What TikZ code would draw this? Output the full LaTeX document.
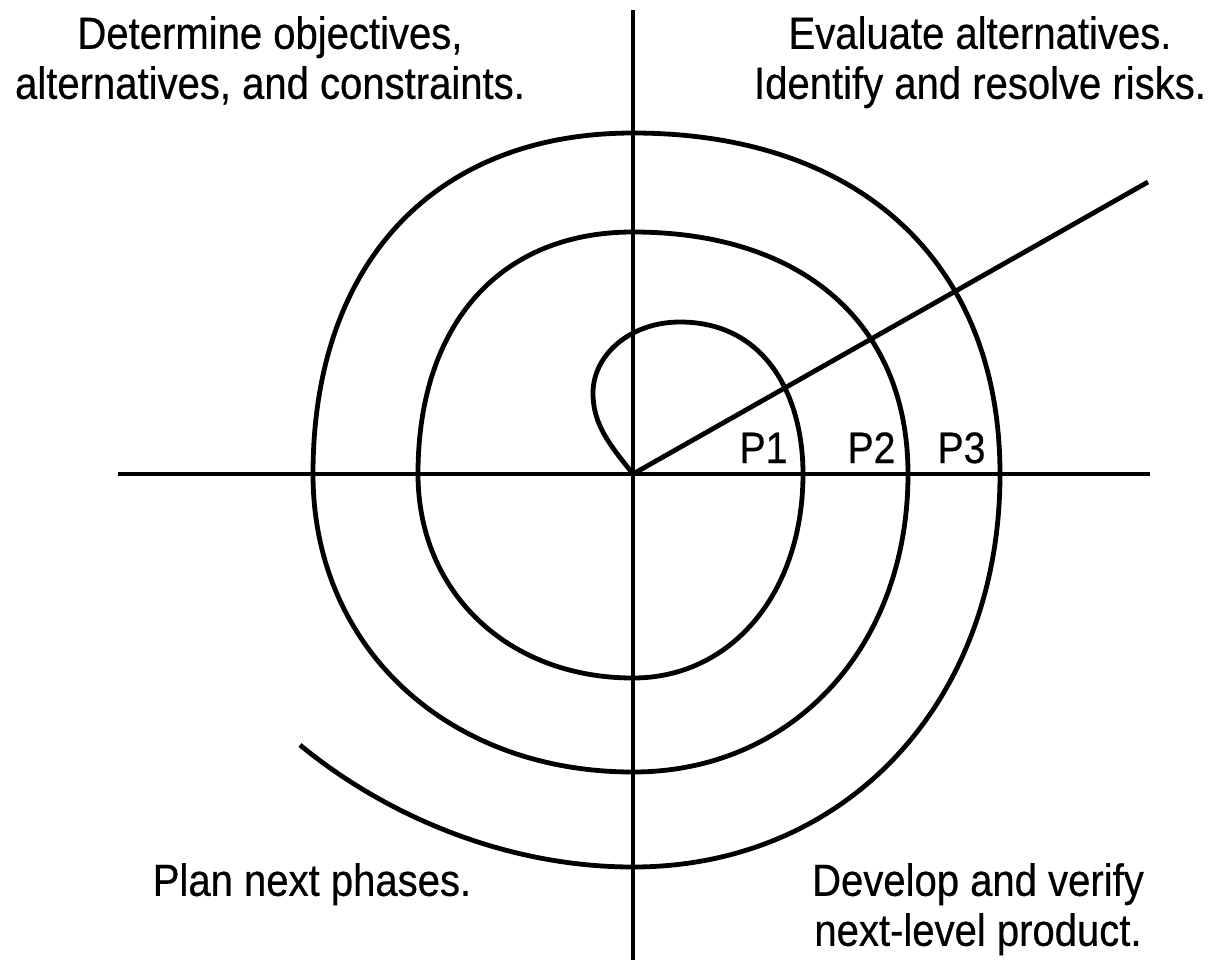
\documentclass[tikz,border=0pt]{standalone}
\usepackage{fontspec}
\setmainfont{Liberation Sans}[FakeStretch=0.89,FakeBold=0.5]
\begin{document}
\begin{tikzpicture}[x=1pt,y=-1pt,
  axisline/.style={line width=4.8pt},
  spiralline/.style={line width=4.8pt,line cap=butt},
  label/.style={inner sep=0pt,align=center,font=\fontsize{45}{50}\selectfont},
  plabel/.style={inner sep=0pt,anchor=base,font=\fontsize{44}{50}\selectfont}]
\useasboundingbox (0,0) rectangle (1218,962);
% axes
\coordinate (O) at (633,474);
\coordinate (vtop) at (633,10);
\coordinate (vbot) at (633,960);
\coordinate (hl) at (118,474);
\coordinate (hr) at (1150,474);
\coordinate (dg) at (1148,182);
\draw[axisline] (vtop) -- (vbot);
\draw[axisline] (hl) -- (hr);
\draw[axisline] (O) -- (dg);
% spiral
\draw[spiralline] (O)
  .. controls (610,445) and (593,425) .. (593,393)
  .. controls (593,355) and (630,322) .. (680,322)
  .. controls (765,322) and (803,395) .. (803,474)
  .. controls (803,592.7) and (731.6,678) .. (633,678)
  .. controls (508.3,678) and (418,592.7) .. (418,474)
  .. controls (418,324.3) and (499.7,232) .. (633,232)
  .. controls (803.5,232) and (908,324.3) .. (908,474)
  .. controls (908,647.3) and (792.5,772) .. (633,772)
  .. controls (447.4,772) and (313,647.3) .. (313,474)
  .. controls (313,263) and (434.6,133) .. (633,133)
  .. controls (860.5,133) and (1000,263) .. (1000,474)
  .. controls (1000,702.4) and (845.9,867) .. (633,867)
  .. controls (505,867) and (385,815) .. (300,745);
% labels
\node[label,anchor=north] (tl) at (270,16) {Determine objectives,\\alternatives, and constraints.};
\node[label,anchor=north] (tr) at (980,16) {Evaluate alternatives.\\Identify and resolve risks.};
\node[label,anchor=north] (bl) at (312,863) {Plan next phases.};
\node[label,anchor=north] (br) at (978,863) {Develop and verify\\next-level product.};
\node[plabel] (p1) at (763.5,463) {P1};
\node[plabel] (p2) at (871.5,463) {P2};
\node[plabel] (p3) at (961.5,463) {P3};
\end{tikzpicture}
\end{document}
